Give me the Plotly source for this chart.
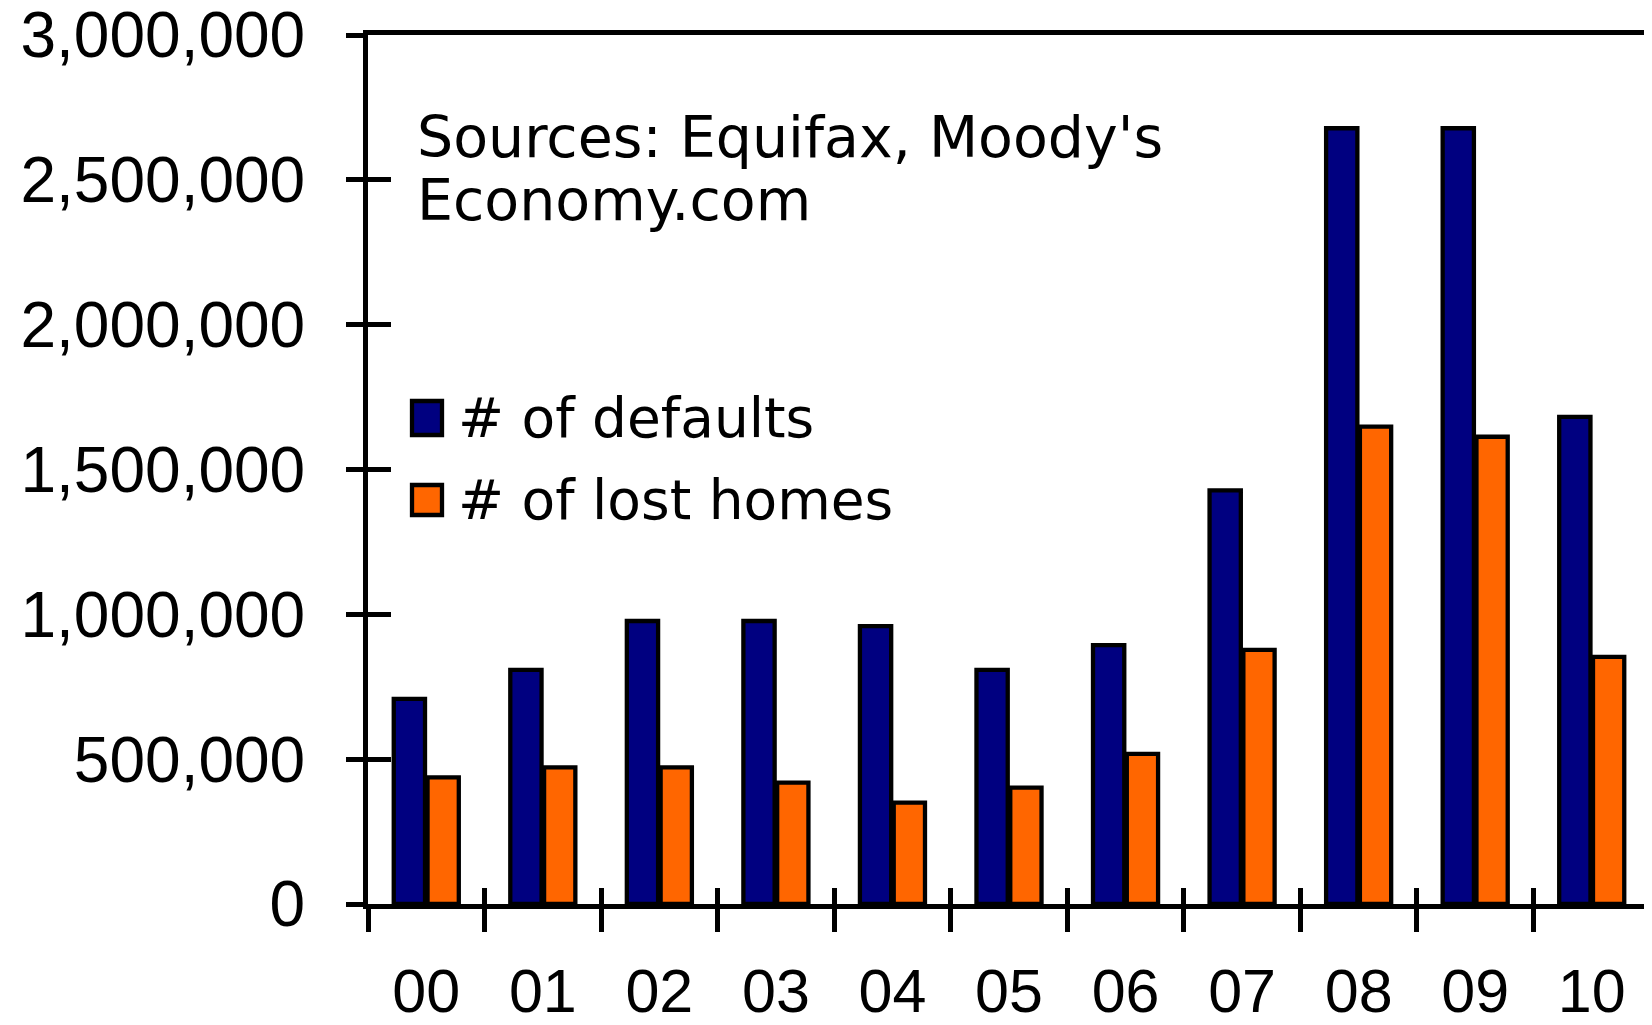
import plotly.graph_objects as go

years = ["00", "01", "02", "03", "04", "05", "06", "07", "08", "09", "10"]
defaults = [708000, 808000, 977000, 977000, 959000, 808000, 894000, 1428000, 2678000, 2678000, 1682000]
lost_homes = [437000, 472000, 472000, 419000, 350000, 402000, 518000, 877000, 1648000, 1613000, 853000]
y_ticks = [0, 500000, 1000000, 1500000, 2000000, 2500000, 3000000]
y_tick_labels = ["0", "500,000", "1,000,000", "1,500,000", "2,000,000", "2,500,000", "3,000,000"]
series_names = ["# of defaults", "# of lost homes"]
series_colors = ["#000080", "#FF6600"]
source_lines = ["Sources: Equifax, Moody's", "Economy.com"]

# the page body adds an 8px offset; build the figure to fit the visible window
OFF = 8
W, H = 1652 - OFF, 1025 - OFF
# inner plot area in figure coordinates
L, R, T, B = 360, 1642, 27, 896

def px(xs):
    return (xs - OFF - L) / (R - L)

def py(ys):
    return (B - (ys - OFF)) / (B - T)

fig = go.Figure()
for name, vals, col in zip(series_names, [defaults, lost_homes], series_colors):
    fig.add_trace(go.Bar(
        x=years, y=vals, name=name,
        marker=dict(color=col, line=dict(color="black", width=4.3)),
        showlegend=False, xaxis="x", yaxis="y",
    ))

ytick_font = dict(family="Liberation Sans, Arial, sans-serif", size=64, color="black")
xtick_font = dict(family="Liberation Sans, Arial, sans-serif", size=61, color="black")
text_font = dict(family="DejaVu Sans, sans-serif", size=57, color="black")
legend_font = dict(family="DejaVu Sans, sans-serif", size=55, color="black")

fig.update_layout(
    width=W, height=H,
    margin=dict(l=L, r=W - R, t=T, b=H - B, pad=0),
    paper_bgcolor="white", plot_bgcolor="white",
    barmode="group", bargap=0.42, bargroupgap=0.075,
    showlegend=False,
    xaxis=dict(
        type="category", categoryorder="array", categoryarray=years,
        range=[-0.5, 10.5], tickson="boundaries",
        ticks="outside", ticklen=23, tickwidth=5, tickcolor="black",
        showline=True, linewidth=5, linecolor="black", mirror=True,
        showgrid=False, zeroline=False, tickfont=xtick_font,
        ticklabelstandoff=30, automargin=False, ticklabeloverflow="allow",
    ),
    yaxis=dict(
        range=[0, 3000000], tickvals=y_ticks, ticktext=y_tick_labels,
        ticks="outside", ticklen=17, tickwidth=5, tickcolor="black",
        showline=True, linewidth=5, linecolor="black", mirror=True,
        showgrid=False, zeroline=False, tickfont=ytick_font,
        ticklabelstandoff=28, automargin=False, ticklabeloverflow="allow",
    ),
    xaxis2=dict(
        overlaying="x", anchor="y", side="bottom", type="linear",
        range=[-0.5, 10.5], tickvals=[i - 0.5 for i in range(len(years) + 1)],
        ticks="inside", ticklen=16, tickwidth=5, tickcolor="black",
        showticklabels=False, showline=False, showgrid=False, zeroline=False,
        automargin=False,
    ),
    yaxis2=dict(
        overlaying="y", anchor="x", side="left",
        range=[0, 3000000], tickvals=y_ticks,
        ticks="inside", ticklen=23, tickwidth=5, tickcolor="black",
        showticklabels=False, showline=False, showgrid=False, zeroline=False,
        automargin=False,
    ),
)

# invisible trace so the overlay axes are drawn
fig.add_trace(go.Scatter(x=[0], y=[0], xaxis="x2", yaxis="y2", mode="markers",
                         marker=dict(opacity=0), showlegend=False, hoverinfo="skip"))

# Source note
fig.add_annotation(text=source_lines[0], x=px(415), y=py(137), xref="paper", yref="paper",
                   xanchor="left", yanchor="middle", showarrow=False, font=text_font)
fig.add_annotation(text=source_lines[1], x=px(415), y=py(200), xref="paper", yref="paper",
                   xanchor="left", yanchor="middle", showarrow=False, font=text_font)

# Legend (manual, large swatches)
legend_rows = [(399, 437), (483, 517)]
for (y0, y1), name, col in zip(legend_rows, series_names, series_colors):
    fig.add_shape(type="rect", xref="paper", yref="paper",
                  x0=px(412), x1=px(442), y0=py(y1 - 2), y1=py(y0 + 2),
                  fillcolor=col, line=dict(color="black", width=4.3))
    fig.add_annotation(text=name, x=px(456), y=py((y0 + y1) / 2), xref="paper", yref="paper",
                       xanchor="left", yanchor="middle", showarrow=False, font=legend_font)

fig.write_html("out.html")
